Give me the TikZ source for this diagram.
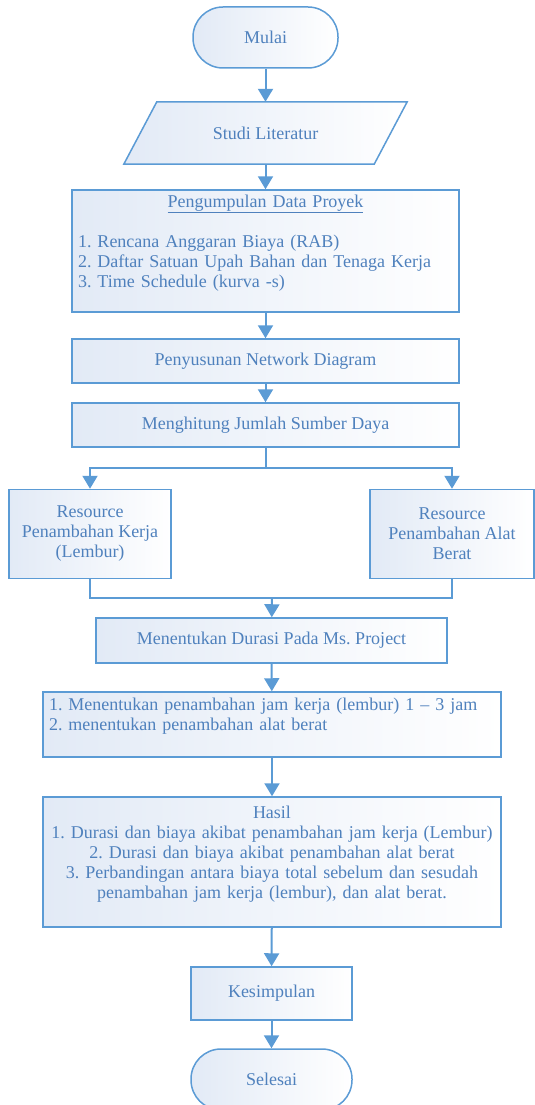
\documentclass[tikz,border=0pt]{standalone}
\usepackage{fontspec}
\setmainfont{Liberation Serif}
\usetikzlibrary{arrows.meta,backgrounds}
\definecolor{lineblue}{RGB}{91,155,213}
\definecolor{textblue}{RGB}{79,129,189}
\definecolor{fillblue}{RGB}{226,234,246}

\begin{document}
\frenchspacing
\begin{tikzpicture}[x=1pt,y=-1pt,
  >={Triangle[length=13pt,width=15pt]},
  every node/.style={text=textblue,font=\fontsize{18}{20}\selectfont},
  shaded/.style={draw=lineblue,line width=1.5pt,left color=fillblue,right color=white},
  box/.style={shaded,rectangle,inner sep=0pt},
  term/.style={box,rounded corners=30pt},
  arr/.style={->,draw=lineblue,line width=2pt},
  link/.style={draw=lineblue,line width=2pt}]
\useasboundingbox (0,0) rectangle (535,1105);
\node[term,minimum width=145pt,minimum height=61pt] (mulai) at (265.5,37.5) {Mulai};
\node[minimum width=250pt,minimum height=62pt,inner sep=0pt] (studi) at (265.5,133) {Studi Literatur};
\begin{scope}[on background layer]
\path[shaded] ([xshift=16.5pt]studi.north west) -- ([xshift=16.5pt]studi.north east)
  -- ([xshift=-16.5pt]studi.south east) -- ([xshift=-16.5pt]studi.south west) -- cycle;
\end{scope}
\node[box,minimum width=387pt,minimum height=122pt,text width=375pt,align=left] (data) at (265.5,251)
  {\makebox[375pt]{\underline{Pengumpulan Data Proyek}}\\[20pt]
   1. Rencana Anggaran Biaya (RAB)\\
   2. Daftar Satuan Upah Bahan dan Tenaga Kerja\\
   3. Time Schedule (kurva -s)\\ \mbox{}};
\node[box,minimum width=387pt,minimum height=44pt] (network) at (265.5,361) {Penyusunan Network Diagram};
\node[box,minimum width=387pt,minimum height=44pt] (hitung) at (265.5,425) {Menghitung Jumlah Sumber Daya};
\node[box,minimum width=162pt,minimum height=89pt,align=center] (lembur) at (90,534) {Resource\\ Penambahan Kerja\\ (Lembur)};
\node[box,minimum width=164pt,minimum height=89pt,align=center] (alat) at (452,534) {Resource\\ Penambahan Alat\\ Berat};
\node[box,minimum width=351pt,minimum height=45pt] (durasi) at (271.5,640.5) {Menentukan Durasi Pada Ms. Project};
\node[box,minimum width=458pt,minimum height=65pt,text width=446pt,align=left] (tambah) at (272,724.5)
  {1. Menentukan penambahan jam kerja (lembur) 1 – 3 jam\\
   2. menentukan penambahan alat berat\\ \mbox{}};
\node[box,minimum width=458pt,minimum height=130pt,text width=456pt,align=center] (hasil) at (272,862)
  {Hasil\\
   1. Durasi dan biaya akibat penambahan jam kerja (Lembur)\\
   2. Durasi dan biaya akibat penambahan alat berat\\
   3. Perbandingan antara biaya total sebelum dan sesudah\\
   penambahan jam kerja (lembur), dan alat berat.\\ \mbox{}};
\node[box,minimum width=161pt,minimum height=53pt] (simpul) at (271.5,993.5) {Kesimpulan};
\node[term,minimum width=161pt,minimum height=61pt] (selesai) at (271.5,1079.5) {Selesai};
\coordinate (split) at (265.5,468);
\coordinate (join) at (272,598);
\draw[arr] (mulai) -- (studi);
\draw[arr] (studi) -- (data);
\draw[arr] (data) -- (network);
\draw[arr] (network) -- (hitung);
\draw[link] (hitung) -- (split);
\draw[arr] (split) -| (lembur);
\draw[arr] (split) -| (alat);
\draw[link] (lembur) |- (join) -| (alat);
\draw[arr] (join) -- (durasi);
\draw[arr] (durasi) -- (tambah);
\draw[arr] (tambah) -- (hasil);
\draw[arr] (hasil) -- (simpul);
\draw[arr] (simpul) -- (selesai);
\end{tikzpicture}
\end{document}
